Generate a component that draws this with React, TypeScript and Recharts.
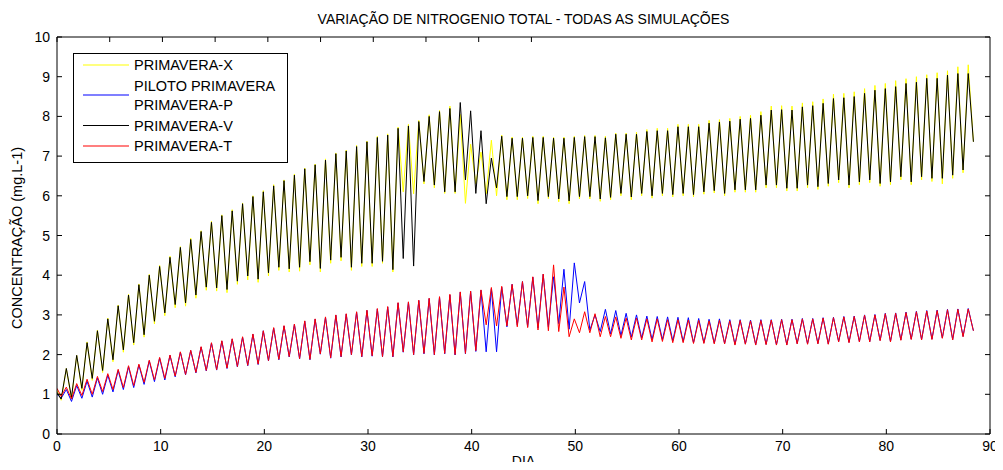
import { LineChart, Line, XAxis, YAxis, Legend } from "recharts";

// MATLAB-style axis ticks
const X_TICKS = [0, 10, 20, 30, 40, 50, 60, 70, 80, 90];
const Y_TICKS = [0, 1, 2, 3, 4, 5, 6, 7, 8, 9, 10];

// each simulated day: a low at day + 0.4 and a high at day + 0.9
const TROUGH_PHASE = 0.4;
const PEAK_PHASE = 0.9;

// values at day 0: X, P, V, T
const START_VALUES = [1.1, 1.0, 1.05, 1.15];

// PRIMAVERA-X (yellow)
const X_PEAKS = [
  1.65, 1.98, 2.32, 2.62, 2.92, 3.25, 3.52, 3.78, 4.02, 4.25,
  4.48, 4.72, 4.93, 5.12, 5.36, 5.52, 5.65, 5.82, 6.0, 6.13,
  6.28, 6.4, 6.55, 6.7, 6.8, 6.93, 7.08, 7.15, 7.27, 7.38,
  7.5, 7.56, 7.73, 7.8, 7.9, 8.04, 8.15, 8.26, 8.05, 7.3,
  7.1, 7.4, 7.53, 7.48, 7.48, 7.5, 7.5, 7.48, 7.48, 7.5,
  7.52, 7.52, 7.5, 7.58, 7.58, 7.6, 7.67, 7.7, 7.7, 7.8,
  7.8, 7.8, 7.9, 7.92, 7.95, 8.0, 8.03, 8.12, 8.26, 8.27,
  8.26, 8.34, 8.37, 8.44, 8.56, 8.58, 8.62, 8.7, 8.78, 8.83,
  8.9, 8.95, 9.0, 9.05, 9.1, 9.15, 9.25, 9.3,
];
const X_TROUGHS = [
  0.85, 0.88, 1.1, 1.35, 1.55, 1.82, 2.06, 2.24, 2.44, 2.77,
  2.98, 3.18, 3.22, 3.42, 3.62, 3.6, 3.56, 3.77, 3.88, 3.82,
  3.98, 4.12, 4.08, 4.1, 4.26, 4.08, 4.3, 4.36, 4.12, 4.22,
  4.22, 4.3, 4.08, 6.1, 6.05, 6.3, 6.2, 6.06, 6.06, 5.81,
  6.3, 6.05, 6.0, 5.9, 5.9, 5.93, 5.8, 5.93, 5.85, 5.8,
  5.92, 5.92, 5.86, 5.9, 6.0, 5.9, 6.0, 5.94, 6.0, 5.97,
  6.0, 5.97, 6.04, 6.07, 6.0, 6.09, 6.09, 6.09, 6.2, 6.2,
  6.12, 6.12, 6.2, 6.16, 6.24, 6.33, 6.2, 6.28, 6.33, 6.24,
  6.28, 6.4, 6.28, 6.4, 6.36, 6.3, 6.44, 6.58, 7.36,
];

// PILOTO PRIMAVERA PRIMAVERA-P (blue)
const P_PEAKS = [
  1.12, 1.22, 1.33, 1.41, 1.48, 1.6, 1.69, 1.74, 1.84, 1.91,
  1.98, 2.06, 2.1, 2.19, 2.29, 2.34, 2.39, 2.44, 2.51, 2.6,
  2.67, 2.72, 2.76, 2.84, 2.89, 2.94, 2.99, 3.02, 3.07, 3.11,
  3.15, 3.2, 3.3, 3.32, 3.36, 3.41, 3.45, 3.5, 3.57, 3.59,
  3.62, 3.66, 3.7, 3.77, 3.84, 3.95, 4.02, 3.96, 4.15, 4.31,
  3.84, 3.0, 3.14, 3.11, 3.04, 3.0, 2.97, 2.96, 2.95, 2.94,
  2.93, 2.91, 2.89, 2.9, 2.88, 2.88, 2.87, 2.88, 2.88, 2.89,
  2.89, 2.91, 2.91, 2.93, 2.94, 2.96, 2.97, 3.0, 3.01, 3.04,
  3.05, 3.07, 3.09, 3.11, 3.12, 3.14, 3.15, 3.16,
];
const P_TROUGHS = [
  0.9, 0.82, 0.9, 0.93, 1.0, 1.06, 1.12, 1.17, 1.25, 1.32,
  1.36, 1.44, 1.49, 1.54, 1.59, 1.61, 1.65, 1.69, 1.72, 1.75,
  1.84, 1.87, 1.94, 1.89, 1.87, 2.01, 1.91, 1.94, 1.99, 1.94,
  1.96, 1.94, 1.94, 2.06, 1.99, 2.02, 1.99, 2.02, 1.99, 2.02,
  2.08, 2.07, 2.07, 2.7, 2.74, 2.7, 2.67, 2.7, 2.78, 2.64,
  3.3, 2.62, 2.58, 2.52, 2.48, 2.44, 2.42, 2.38, 2.38, 2.35,
  2.33, 2.3, 2.3, 2.29, 2.28, 2.26, 2.27, 2.25, 2.26, 2.25,
  2.25, 2.28, 2.27, 2.28, 2.27, 2.33, 2.31, 2.33, 2.33, 2.36,
  2.33, 2.37, 2.39, 2.38, 2.39, 2.42, 2.38, 2.46, 2.6,
];

// PRIMAVERA-V (black)
const V_PEAKS = [
  1.65, 1.98, 2.3, 2.6, 2.9, 3.23, 3.5, 3.76, 4.0, 4.22,
  4.45, 4.7, 4.9, 5.1, 5.33, 5.5, 5.62, 5.8, 5.98, 6.1,
  6.25, 6.38, 6.52, 6.68, 6.78, 6.9, 7.06, 7.13, 7.24, 7.36,
  7.47, 7.53, 7.7, 7.76, 7.87, 8.0, 8.12, 8.2, 8.35, 8.14,
  7.64, 6.95, 7.5, 7.45, 7.45, 7.47, 7.47, 7.45, 7.45, 7.47,
  7.49, 7.49, 7.46, 7.55, 7.55, 7.55, 7.62, 7.64, 7.64, 7.74,
  7.74, 7.74, 7.83, 7.86, 7.88, 7.93, 7.95, 8.03, 8.16, 8.17,
  8.16, 8.24, 8.27, 8.33, 8.45, 8.47, 8.5, 8.58, 8.66, 8.7,
  8.75, 8.83, 8.86, 8.96, 8.96, 9.04, 9.08, 9.08,
];
const V_TROUGHS = [
  0.88, 0.92, 1.15, 1.4, 1.6, 1.87, 2.12, 2.3, 2.5, 2.84,
  3.05, 3.26, 3.3, 3.5, 3.7, 3.68, 3.64, 3.85, 3.98, 3.9,
  4.06, 4.2, 4.16, 4.2, 4.34, 4.17, 4.38, 4.45, 4.2, 4.3,
  4.3, 4.35, 4.14, 4.42, 4.23, 6.36, 6.27, 6.1, 6.1, 6.4,
  6.06, 5.8, 6.2, 5.98, 5.98, 6.0, 5.88, 5.98, 5.92, 5.87,
  5.98, 5.98, 5.92, 5.96, 6.06, 5.97, 6.06, 6.0, 6.06, 6.03,
  6.06, 6.03, 6.1, 6.13, 6.06, 6.15, 6.15, 6.15, 6.27, 6.27,
  6.19, 6.19, 6.27, 6.23, 6.31, 6.4, 6.27, 6.35, 6.4, 6.31,
  6.35, 6.48, 6.35, 6.48, 6.44, 6.44, 6.52, 6.65, 7.36,
];

// PRIMAVERA-T (red)
const T_PEAKS = [
  1.18, 1.27, 1.38, 1.45, 1.52, 1.63, 1.72, 1.76, 1.86, 1.93,
  1.99, 2.07, 2.11, 2.2, 2.3, 2.35, 2.4, 2.45, 2.52, 2.6,
  2.68, 2.73, 2.77, 2.85, 2.9, 2.95, 3.0, 3.03, 3.08, 3.12,
  3.16, 3.21, 3.31, 3.33, 3.37, 3.42, 3.46, 3.52, 3.58, 3.6,
  3.63, 3.69, 3.72, 3.77, 3.84, 3.96, 4.03, 4.26, 3.7, 2.9,
  3.08, 3.03, 2.96, 2.95, 2.92, 2.92, 2.9, 2.9, 2.88, 2.88,
  2.87, 2.86, 2.85, 2.86, 2.85, 2.86, 2.85, 2.86, 2.87, 2.88,
  2.88, 2.9, 2.9, 2.92, 2.93, 2.95, 2.96, 2.99, 3.0, 3.03,
  3.04, 3.06, 3.08, 3.1, 3.11, 3.13, 3.14, 3.15,
];
const T_TROUGHS = [
  0.95, 0.88, 0.97, 1.0, 1.07, 1.12, 1.17, 1.22, 1.3, 1.36,
  1.4, 1.46, 1.5, 1.55, 1.6, 1.62, 1.66, 1.7, 1.73, 1.76,
  1.85, 1.88, 1.95, 1.9, 1.88, 2.02, 1.92, 1.95, 2.0, 1.95,
  1.97, 1.95, 1.95, 2.07, 2.0, 2.03, 2.0, 2.03, 2.0, 2.03,
  2.1, 2.75, 2.72, 2.72, 2.7, 2.68, 2.62, 2.6, 2.58, 2.45,
  2.55, 2.55, 2.45, 2.45, 2.41, 2.37, 2.37, 2.32, 2.33, 2.3,
  2.3, 2.28, 2.28, 2.27, 2.27, 2.24, 2.26, 2.24, 2.25, 2.24,
  2.24, 2.27, 2.26, 2.27, 2.26, 2.32, 2.3, 2.32, 2.32, 2.35,
  2.32, 2.36, 2.38, 2.37, 2.38, 2.41, 2.37, 2.45, 2.6,
];

const FONT = "Arial, 'Liberation Sans', Helvetica, sans-serif";

type Row = { dia: number; x: number; p: number; v: number; t: number };

const rows: Row[] = [
  { dia: 0, x: START_VALUES[0], p: START_VALUES[1], v: START_VALUES[2], t: START_VALUES[3] },
];
X_TROUGHS.forEach((_, i) => {
  rows.push({ dia: i + TROUGH_PHASE, x: X_TROUGHS[i], p: P_TROUGHS[i], v: V_TROUGHS[i], t: T_TROUGHS[i] });
  if (i < X_PEAKS.length) {
    rows.push({ dia: i + PEAK_PHASE, x: X_PEAKS[i], p: P_PEAKS[i], v: V_PEAKS[i], t: T_PEAKS[i] });
  }
});

const LEGEND_ROWS = [
  { color: "#ffff00", lines: ["PRIMAVERA-X"] },
  { color: "#0000ff", lines: ["PILOTO PRIMAVERA", "PRIMAVERA-P"] },
  { color: "#000000", lines: ["PRIMAVERA-V"] },
  { color: "#ff0000", lines: ["PRIMAVERA-T"] },
];

// ticks point inward like matlab, labels stay outside
const BottomTick = ({ x, y, payload }: any) => (
  <g>
    <line x1={x} x2={x} y1={y} y2={y - 5} stroke="#000" />
    <text x={x} y={y + 17} textAnchor="middle" fontSize={14} fontFamily={FONT} fill="#000">
      {payload.value}
    </text>
  </g>
);
const LeftTick = ({ x, y, payload }: any) => (
  <g>
    <line x1={x} x2={x + 5} y1={y} y2={y} stroke="#000" />
    <text x={x - 7} y={y + 5} textAnchor="end" fontSize={14} fontFamily={FONT} fill="#000">
      {payload.value}
    </text>
  </g>
);
const TopTick = ({ x, y }: any) => <line x1={x} x2={x} y1={y} y2={y + 5} stroke="#000" />;
const RightTick = ({ x, y }: any) => <line x1={x - 5} x2={x} y1={y} y2={y} stroke="#000" />;

const LegendBox = () => {
  let yPos = 12;
  return (
    <svg width={216} height={111} style={{ display: "block" }}>
      <rect x={0.5} y={0.5} width={214} height={109} fill="#fff" stroke="#000" />
      {LEGEND_ROWS.map((r) => {
        const top = yPos;
        const mid = top + ((r.lines.length - 1) * 19) / 2;
        yPos += r.lines.length === 1 ? 20.5 : 40;
        return (
          <g key={r.lines[0]}>
            <line x1={10} x2={56} y1={mid} y2={mid} stroke={r.color} strokeWidth={1.2} />
            {r.lines.map((l, k) => (
              <text key={l} x={61} y={top + k * 19 + 5} fontSize={14.5} fontFamily={FONT} fill="#000">
                {l}
              </text>
            ))}
          </g>
        );
      })}
    </svg>
  );
};

export default function App() {
  return (
    // body keeps its 8px margin; the inner layer is pulled back to the page corner
    <div style={{ position: "relative", width: 995, height: 454 }}>
      <div style={{ position: "absolute", left: -8, top: -8, width: 1003, height: 470, fontFamily: FONT, background: "#fff" }}>
        <div style={{ position: "absolute", left: 57, width: 933, top: 12, textAlign: "center", fontSize: 14, lineHeight: "14px", color: "#000" }}>
          VARIAÇÃO DE NITROGENIO TOTAL - TODAS AS SIMULAÇÕES
        </div>
        <div
          style={{
            position: "absolute",
            left: 17 - 100,
            top: 238 - 8,
            width: 200,
            textAlign: "center",
            fontSize: 14.5,
            lineHeight: "16px",
            transform: "rotate(-90deg)",
            color: "#000",
          }}
        >
          CONCENTRAÇÃO (mg.L-1)
        </div>
        <LineChart width={1003} height={470} data={rows} margin={{ top: 0, right: 0, bottom: 0, left: 0 }}>
          <XAxis
            dataKey="dia"
            type="number"
            domain={[0, 90]}
            ticks={X_TICKS}
            interval={0}
            height={36}
            tickSize={0}
            tickMargin={0}
            tickLine={false}
            axisLine={{ stroke: "#000" }}
            tick={<BottomTick />}
            label={{ value: "DIA", position: "insideBottom", offset: 4, fill: "#000", fontSize: 14, fontFamily: FONT }}
            allowDataOverflow
          />
          <XAxis
            xAxisId="top"
            orientation="top"
            type="number"
            domain={[0, 90]}
            ticks={X_TICKS}
            interval={0}
            height={37}
            tickSize={0}
            tickMargin={0}
            tickLine={false}
            axisLine={{ stroke: "#000" }}
            tick={<TopTick />}
            allowDataOverflow
          />
          <YAxis
            type="number"
            domain={[0, 10]}
            ticks={Y_TICKS}
            interval={0}
            width={57}
            tickSize={0}
            tickMargin={0}
            tickLine={false}
            axisLine={{ stroke: "#000" }}
            tick={<LeftTick />}
            allowDataOverflow
          />
          <YAxis
            yAxisId="right"
            orientation="right"
            type="number"
            domain={[0, 10]}
            ticks={Y_TICKS}
            interval={0}
            width={13}
            tickSize={0}
            tickMargin={0}
            tickLine={false}
            axisLine={{ stroke: "#000" }}
            tick={<RightTick />}
            allowDataOverflow
          />
          <Legend
            layout="vertical"
            align="center"
            verticalAlign="middle"
            wrapperStyle={{ left: 73, top: 53, width: 216, height: 111 }}
            content={<LegendBox />}
          />
          <Line dataKey="x" name="PRIMAVERA-X" type="linear" stroke="#ffff00" strokeWidth={1} dot={false} isAnimationActive={false} />
          <Line dataKey="p" name="PILOTO PRIMAVERA PRIMAVERA-P" type="linear" stroke="#0000ff" strokeWidth={1} dot={false} isAnimationActive={false} />
          <Line dataKey="v" name="PRIMAVERA-V" type="linear" stroke="#000000" strokeWidth={1} dot={false} isAnimationActive={false} />
          <Line dataKey="t" name="PRIMAVERA-T" type="linear" stroke="#ff0000" strokeWidth={1} dot={false} isAnimationActive={false} />
        </LineChart>
      </div>
    </div>
  );
}
